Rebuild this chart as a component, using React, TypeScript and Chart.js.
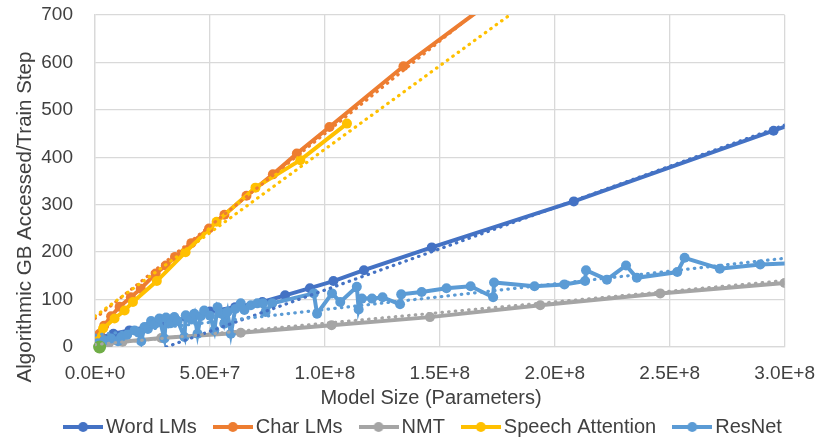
import { useEffect, useRef } from "react";
import Chart from "chart.js/auto";

// Word LMs
const wordLmSizes = [2e5, 3e6, 8e6, 1.5e7, 2.3e7, 3.3e7, 4.0e7, 5.0e7, 6.1e7, 7.28e7, 8.27e7, 9.35e7, 1.037e8, 1.17e8, 1.465e8, 2.083e8, 2.952e8, 3.3e8];
const wordLmGB = [8, 20, 28, 35, 42, 52, 62, 75, 84, 95, 109, 124, 139, 162, 210, 307, 456, 515];

// Char LMs
const charLmSizes = [5e5, 2e6, 4e6, 7e6, 1.07e7, 1.56e7, 1.99e7, 2.64e7, 3.08e7, 3.48e7, 4.19e7, 4.96e7, 5.63e7, 6.59e7, 7.74e7, 8.78e7, 1.02e8, 1.342e8, 1.95e8];
const charLmGB = [12, 28, 45, 65, 85, 105, 123, 155, 172, 190, 219, 250, 279, 319, 364, 408, 464, 592, 810];

// NMT
const nmtSizes = [5e5, 2e6, 6e6, 1.2e7, 2.88e7, 6.34e7, 1.029e8, 1.457e8, 1.937e8, 2.459e8, 3.0e8];
const nmtGB = [3, 5, 8, 11, 19, 30, 46, 63, 88, 113, 135];

// Speech Attention
const speechSizes = [0, 3.5e6, 8.5e6, 1.29e7, 1.65e7, 2.69e7, 3.94e7, 5.29e7, 6.98e7, 8.93e7, 1.096e8];
const speechGB = [10, 39, 60, 77, 95, 139, 200, 264, 336, 394, 471];

// ResNet
const resnetSizes = [
  1e6, 4e6, 7e6, 1.0e7, 1.14e7, 1.4e7, 1.72e7, 1.9e7, 2.01e7, 2.15e7, 2.3e7, 2.44e7, 2.6e7, 2.8e7,
  3.02e7, 3.09e7, 3.3e7, 3.45e7, 3.6e7, 3.89e7, 3.95e7, 4.2e7, 4.32e7, 4.46e7, 4.6e7, 4.75e7, 5.0e7,
  5.19e7, 5.33e7, 5.5e7, 5.62e7, 5.76e7, 5.91e7, 6.1e7, 6.34e7, 6.5e7, 6.78e7, 7.06e7, 7.31e7, 7.42e7,
  7.71e7, 9.52e7, 9.66e7, 1.031e8, 1.067e8, 1.139e8, 1.147e8, 1.161e8, 1.205e8, 1.251e8, 1.327e8,
  1.332e8, 1.421e8, 1.529e8, 1.634e8, 1.732e8, 1.736e8, 1.912e8, 2.042e8, 2.132e8, 2.136e8, 2.227e8,
  2.31e8, 2.357e8, 2.533e8, 2.565e8, 2.718e8, 2.894e8, 3.1e8,
];
const resnetGB = [
  8, 14, 18, 12, 21, 26, 35, 30, 12, 42, 38, 55, 48, 60,
  18, 62, 50, 63, 55, 21, 67, 58, 70, 28, 65, 77, 66,
  35, 84, 70, 49, 74, 28, 80, 92, 78, 88, 92, 92, 74,
  92, 113, 70, 113, 95, 127, 79, 102, 102, 105, 90,
  111, 116, 124, 128, 105, 136, 128, 132, 139, 162, 142,
  172, 146, 158, 188, 165, 174, 178,
];

// unlabeled point at the origin
const originSizes = [2e6];
const originGB = [0];

// dotted linear trendlines (two end points each)
const wordTrendSizes = [3.1e7, 3.0e8];
const wordTrendGB = [0, 468];
const charTrendSizes = [0, 1.8e8];
const charTrendGB = [60, 762];
const nmtTrendSizes = [0, 3.0e8];
const nmtTrendGB = [5, 140];
const speechTrendSizes = [0, 2.0e8];
const speechTrendGB = [65, 769];
const resnetTrendSizes = [0, 3.0e8];
const resnetTrendGB = [25, 187];

const seriesNames = ["Word LMs", "Char LMs", "NMT", "Speech Attention", "ResNet"];
const seriesColors = ["#4472C4", "#ED7D31", "#A5A5A5", "#FFC000", "#5B9BD5"];

const xTicks = [0, 5e7, 1e8, 1.5e8, 2e8, 2.5e8, 3e8];
const yTicks = [0, 100, 200, 300, 400, 500, 600, 700];

const FONT = "'Liberation Sans', Arial, sans-serif";
const TEXT = "#404040";

const toPoints = (xs: number[], ys: number[]) => xs.map((x, i) => ({ x, y: ys[i] }));

const legendMarker = (color: string) => {
  const c = document.createElement("canvas");
  c.width = 40;
  c.height = 12;
  const g = c.getContext("2d")!;
  g.strokeStyle = color;
  g.lineWidth = 4;
  g.beginPath();
  g.moveTo(0, 6);
  g.lineTo(40, 6);
  g.stroke();
  g.fillStyle = color;
  g.beginPath();
  g.arc(20, 6, 5, 0, Math.PI * 2);
  g.fill();
  return c;
};

const axisTitles = {
  id: "axisTitles",
  afterLayout(chart: any) {
    // nudge the legend row to the right, as in the original
    chart.legend.left += 30;
    chart.legend.right += 30;
  },
  afterDraw(chart: any) {
    const ctx = chart.ctx;
    ctx.save();
    ctx.fillStyle = TEXT;
    ctx.textAlign = "center";
    ctx.textBaseline = "middle";
    ctx.font = `20px ${FONT}`;
    ctx.fillText("Model Size (Parameters)", 431, 398);
    ctx.font = `20.5px ${FONT}`;
    ctx.translate(25, 217);
    ctx.rotate(-Math.PI / 2);
    ctx.fillText("Algorithmic GB Accessed/Train Step", 0, 0);
    ctx.restore();
  },
};

const App = () => {
  const chartRef: any = useRef(null);

  useEffect(() => {
    const ctx = chartRef.current.getContext("2d");
    const markers = seriesColors.map(legendMarker);

    const solid = (i: number, xs: number[], ys: number[], order: number) => ({
      label: seriesNames[i],
      data: toPoints(xs, ys),
      showLine: true,
      borderColor: seriesColors[i],
      backgroundColor: seriesColors[i],
      borderWidth: 4,
      pointRadius: 5,
      pointBorderWidth: 0,
      order,
    });

    const trend = (i: number, xs: number[], ys: number[], order: number) => ({
      label: seriesNames[i] + " trend",
      data: toPoints(xs, ys),
      showLine: true,
      borderColor: seriesColors[i],
      borderWidth: 3.2,
      borderDash: [0.5, 6.2],
      borderCapStyle: "round",
      pointRadius: 0,
      order,
    });

    const theChart = new Chart(ctx, {
      type: "scatter",
      data: {
        datasets: [
          solid(0, wordLmSizes, wordLmGB, 10),
          solid(1, charLmSizes, charLmGB, 9),
          solid(2, nmtSizes, nmtGB, 8),
          solid(3, speechSizes, speechGB, 7),
          solid(4, resnetSizes, resnetGB, 6),
          {
            label: "origin",
            data: toPoints(originSizes, originGB),
            backgroundColor: "#70AD47",
            pointRadius: 6.5,
            pointBorderWidth: 0,
            clip: false,
            order: 5,
          },
          trend(0, wordTrendSizes, wordTrendGB, 4),
          trend(1, charTrendSizes, charTrendGB, 3),
          trend(2, nmtTrendSizes, nmtTrendGB, 2),
          trend(3, speechTrendSizes, speechTrendGB, 1),
          trend(4, resnetTrendSizes, resnetTrendGB, 0),
        ] as any,
      },
      options: {
        animation: false,
        responsive: true,
        maintainAspectRatio: false,
        layout: { padding: { left: 0, right: 38, top: 0, bottom: 0 } },
        plugins: {
          tooltip: { enabled: false },
          legend: {
            position: "bottom",
            labels: {
              usePointStyle: true,
              pointStyleWidth: 26,
              boxHeight: 12,
              padding: 23,
              color: TEXT,
              font: { family: FONT, size: 20 },
              generateLabels: () =>
                seriesNames.map((name, i) => ({
                  text: name,
                  fillStyle: seriesColors[i],
                  strokeStyle: seriesColors[i],
                  lineWidth: 0,
                  pointStyle: markers[i],
                  datasetIndex: i,
                  hidden: false,
                  fontColor: TEXT,
                })),
            },
          },
        },
        scales: {
          x: {
            type: "linear",
            min: 0,
            max: 3e8,
            afterFit: (s: any) => {
              s.height = 47;
            },
            afterBuildTicks: (s: any) => {
              s.ticks = xTicks.map((value) => ({ value }));
            },
            ticks: {
              padding: 15,
              color: TEXT,
              font: { family: FONT, size: 19 },
              maxRotation: 0,
              callback: (v: any) => Number(v).toExponential(1).toUpperCase(),
            },
            grid: { color: "#D9D9D9", lineWidth: 1.3, drawTicks: false },
            border: { color: "#D9D9D9", width: 1.3 },
          },
          y: {
            min: 0,
            max: 700,
            afterFit: (s: any) => {
              s.width = 95;
              s.paddingTop = 15;
              s.paddingBottom = 0;
            },
            afterBuildTicks: (s: any) => {
              s.ticks = yTicks.map((value) => ({ value }));
            },
            ticks: {
              padding: 22,
              color: TEXT,
              font: { family: FONT, size: 19 },
            },
            grid: { color: "#D9D9D9", lineWidth: 1.3, drawTicks: false },
            border: { color: "#D9D9D9", width: 1.3 },
          },
        },
      },
      plugins: [axisTitles],
    });

    return () => {
      theChart.destroy();
    };
  }, []);

  return (
    <div style={{ position: "absolute", left: 0, top: 0, width: 830, height: 447 }}>
      <canvas ref={chartRef} />
    </div>
  );
};

export default App;
